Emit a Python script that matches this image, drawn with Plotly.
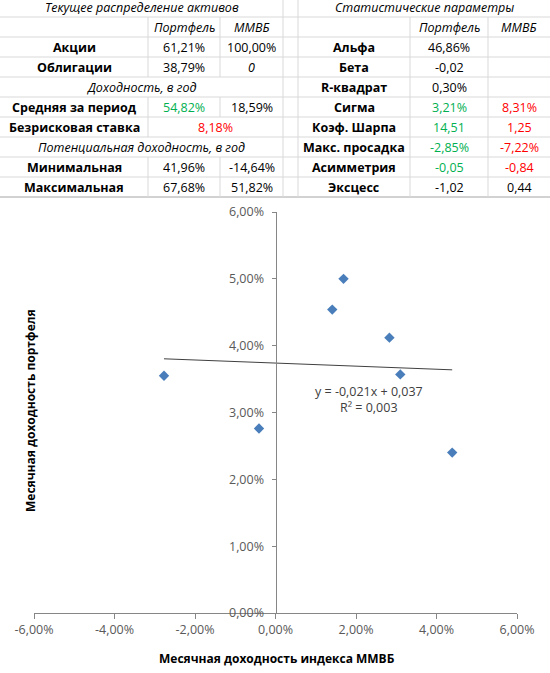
import numpy as np
import plotly.graph_objects as go

# ---------------- data ----------------
mmvb_monthly = [-0.0277, -0.0041, 0.0141, 0.0169, 0.0283, 0.0310, 0.0439]
portfolio_monthly = [0.0355, 0.0276, 0.0454, 0.0500, 0.0412, 0.0357, 0.0240]
trend_label = "y = -0,021x + 0,037"
r2_label = "R² = 0,003"
x_title = "Месячная доходность индекса ММВБ"
y_title = "Месячная доходность портфеля"
x_tick_values = [-0.06, -0.04, -0.02, 0.0, 0.02, 0.04, 0.06]
x_tick_labels = ["-6,00%", "-4,00%", "-2,00%", "0,00%", "2,00%", "4,00%", "6,00%"]
y_tick_values = [0.0, 0.01, 0.02, 0.03, 0.04, 0.05, 0.06]
y_tick_labels = ["0,00%", "1,00%", "2,00%", "3,00%", "4,00%", "5,00%", "6,00%"]

left_title = "Текущее распределение активов"
returns_title = "Доходность, в год"
potential_title = "Потенциальная доходность, в год"
right_title = "Статистические параметры"
column_headers = ["Портфель", "ММВБ"]

alloc_labels = ["Акции", "Облигации"]
alloc_portfolio = ["61,21%", "38,79%"]
alloc_mmvb = ["100,00%", "0"]

avg_label = "Средняя за период"
avg_portfolio = "54,82%"
avg_mmvb = "18,59%"
riskfree_label = "Безрисковая ставка"
riskfree_value = "8,18%"

potential_labels = ["Минимальная", "Максимальная"]
potential_portfolio = ["41,96%", "67,68%"]
potential_mmvb = ["-14,64%", "51,82%"]

stat_labels = ["Альфа", "Бета", "R-квадрат", "Сигма", "Коэф. Шарпа",
               "Макс. просадка", "Асимметрия", "Эксцесс"]
stat_portfolio = ["46,86%", "-0,02", "0,30%", "3,21%", "14,51", "-2,85%", "-0,05", "-1,02"]
stat_mmvb = ["", "", "", "8,31%", "1,25", "-7,22%", "-0,84", "0,44"]
stat_good_rows = [3, 4, 5, 6]   # highlighted rows

# ---------------- layout helpers ----------------
W, H = 550, 673
L, R, T, B = 34, 33, 212, 60
PW, PH = W - L - R, H - T - B
FONT = "Open Sans"
TS = 12.5  # table font size
GREEN = "#00b050"
RED = "#ff0000"
GRID = "#d9d9d9"


def px(x):
    return (x - L) / PW


def py(y):
    return (H - B - y) / PH


annotations = []
shapes = []


def txt(x, y, s, size=TS, color="#000000", bold=False, italic=False, angle=0):
    if bold:
        s = "<b>" + s + "</b>"
    if italic:
        s = "<i>" + s + "</i>"
    annotations.append(dict(x=px(x), y=py(y), xref="paper", yref="paper", text=s,
                            showarrow=False, textangle=angle,
                            font=dict(family=FONT, size=size, color=color),
                            xanchor="center", yanchor="middle"))


def line(x0, y0, x1, y1, color=GRID, width=1):
    shapes.append(dict(type="line", xref="paper", yref="paper",
                       x0=px(x0), y0=py(y0), x1=px(x1), y1=py(y1),
                       line=dict(color=color, width=width), layer="above"))


def rb(k):
    return max(0, -3 + 20 * k)


def rc(k):
    return 7.5 + 20 * k if k > 0 else 8


# columns
A, Bc, C, D, E, F, G = (0, 148), (148, 220), (220, 283), (283, 298), (298, 410), (410, 488), (488, 550)


def cx(col):
    return (col[0] + col[1]) / 2


# grid lines
for k in range(1, 10):
    line(0, rb(k), W, rb(k))
line(0, 197, W, 197, color="#a6a6a6", width=1.2)
for k in [1, 2, 3, 5, 6, 8, 9]:
    line(148, rb(k), 148, rb(k + 1))
for k in [1, 2, 3, 5, 8, 9]:
    line(220, rb(k), 220, rb(k + 1))
for xv in (283, 298):
    line(xv, 0, xv, 197)
for xv in (410, 488):
    line(xv, 17, xv, 197)

# left block
txt((A[0] + C[1]) / 2, rc(0), left_title, italic=True)
txt(cx(Bc), rc(1), column_headers[0], italic=True)
txt(cx(C), rc(1), column_headers[1], italic=True)
for i in range(2):
    txt(cx(A), rc(2 + i), alloc_labels[i], bold=True)
    txt(cx(Bc), rc(2 + i), alloc_portfolio[i])
    txt(cx(C), rc(2 + i), alloc_mmvb[i], italic=(alloc_mmvb[i] == "0"))
txt((A[0] + C[1]) / 2, rc(4), returns_title, italic=True)
txt(cx(A), rc(5), avg_label, bold=True)
txt(cx(Bc), rc(5), avg_portfolio, color=GREEN)
txt(cx(C), rc(5), avg_mmvb)
txt(cx(A), rc(6), riskfree_label, bold=True)
txt((Bc[0] + C[1]) / 2, rc(6), riskfree_value, color=RED)
txt((A[0] + C[1]) / 2, rc(7), potential_title, italic=True)
for i in range(2):
    txt(cx(A), rc(8 + i), potential_labels[i], bold=True)
    txt(cx(Bc), rc(8 + i), potential_portfolio[i])
    txt(cx(C), rc(8 + i), potential_mmvb[i])

# right block
txt((E[0] + G[1]) / 2, rc(0), right_title, italic=True)
txt(cx(F), rc(1), column_headers[0], italic=True)
txt(cx(G), rc(1), column_headers[1], italic=True)
for i, lab in enumerate(stat_labels):
    good = i in stat_good_rows
    txt(cx(E), rc(2 + i), lab, bold=True)
    txt(cx(F), rc(2 + i), stat_portfolio[i], color=GREEN if good else "#000000")
    if stat_mmvb[i]:
        txt(cx(G), rc(2 + i), stat_mmvb[i], color=RED if good else "#000000")

# chart texts
txt(369, 391, trend_label, size=12.5, color="#404040")
txt(369, 407, r2_label, size=12.5, color="#404040")
txt(277, 658, x_title, size=12, bold=True)
txt(30, 411, y_title, size=12, bold=True, angle=-90)

# ---------------- figure ----------------
xs = np.array(mmvb_monthly)
ys = np.array(portfolio_monthly)
slope, intercept = np.polyfit(xs, ys, 1)
tx = np.array([xs.min(), xs.max()])
ty = slope * tx + intercept

fig = go.Figure()
fig.add_trace(go.Scatter(x=tx, y=ty, mode="lines",
                         line=dict(color="#404040", width=1), hoverinfo="skip"))
fig.add_trace(go.Scatter(x=mmvb_monthly, y=portfolio_monthly, mode="markers",
                         marker=dict(symbol="diamond", size=8, color="#4a7ebb")))

axis_font = dict(family=FONT, size=12.5, color="#595959")
fig.update_layout(
    width=W, height=H, autosize=False,
    margin=dict(l=L, r=R, t=T, b=B, pad=0),
    paper_bgcolor="white", plot_bgcolor="white",
    showlegend=False,
    font=dict(family=FONT),
    annotations=annotations, shapes=shapes,
    xaxis=dict(range=[-0.06, 0.06], tickmode="array", tickvals=x_tick_values,
               ticktext=x_tick_labels,
               showgrid=False, zeroline=False, showline=True, linecolor="#868686",
               ticks="outside", ticklen=5, tickcolor="#868686", tickfont=axis_font,
               anchor="y", fixedrange=True),
    yaxis=dict(range=[0, 0.06], tickmode="array", tickvals=y_tick_values,
               ticktext=y_tick_labels,
               showgrid=False, zeroline=False, showline=True, linecolor="#868686",
               ticks="outside", ticklen=4, tickcolor="#868686", tickfont=axis_font,
               anchor="free", position=0.5, ticklabelstandoff=5, fixedrange=True),
)

fig.write_html("out.html", config={"displayModeBar": False},
               post_script="document.body.style.margin='0';")
